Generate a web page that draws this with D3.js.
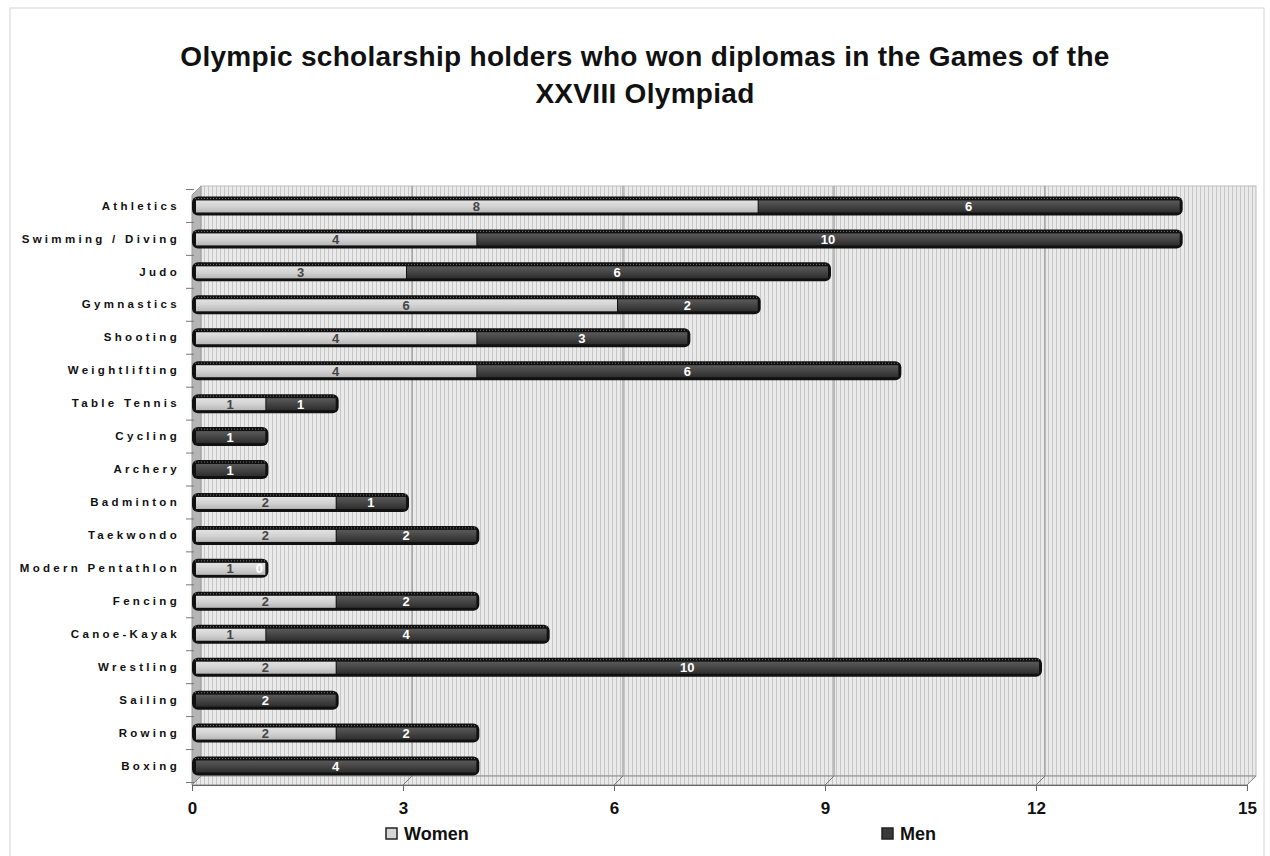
<!DOCTYPE html>
<html>
<head>
<meta charset="utf-8">
<script src="https://cdn.jsdelivr.net/npm/d3@7"></script>
<style>
  body { margin: 0; background: #fff; }
  svg text { font-family: 'Liberation Sans', Arial, sans-serif; }
</style>
</head>
<body>
<div class="canvas"></div>
<script>
// data
const categories = ['Athletics', 'Swimming / Diving', 'Judo', 'Gymnastics', 'Shooting', 'Weightlifting',
  'Table Tennis', 'Cycling', 'Archery', 'Badminton', 'Taekwondo', 'Modern Pentathlon',
  'Fencing', 'Canoe-Kayak', 'Wrestling', 'Sailing', 'Rowing', 'Boxing'];
const women = [8, 4, 3, 6, 4, 4, 1, 0, 0, 2, 2, 1, 2, 1, 2, 0, 2, 0];
const men = [6, 10, 6, 2, 3, 6, 1, 1, 1, 1, 2, 0, 2, 4, 10, 2, 2, 4];
const xTicks = [0, 3, 6, 9, 12, 15];
const seriesNames = ['Women', 'Men'];

const width = 1270;
const height = 856;
const depth = 9; // 3d offset of the back wall

const svg = d3
  .select('.canvas')
  .append('svg')
  .attr('width', width)
  .attr('height', height);

const defs = svg.append('defs');

// vertical hatching for walls
const hatch = defs.append('pattern')
  .attr('id', 'hatch')
  .attr('patternUnits', 'userSpaceOnUse')
  .attr('width', 4)
  .attr('height', 4);
hatch.append('rect').attr('width', 4).attr('height', 4).attr('fill', '#eaeaea');
hatch.append('rect').attr('x', 0).attr('width', 1).attr('height', 4).attr('fill', '#c6c6c6');

// bar textures
const womenGrad = defs.append('linearGradient').attr('id', 'womenGrad').attr('x1', 0).attr('y1', 0).attr('x2', 0).attr('y2', 1);
womenGrad.append('stop').attr('offset', '0%').attr('stop-color', '#e2e2e2');
womenGrad.append('stop').attr('offset', '50%').attr('stop-color', '#d2d2d2');
womenGrad.append('stop').attr('offset', '100%').attr('stop-color', '#b8b8b8');

const menGrad = defs.append('linearGradient').attr('id', 'menGrad').attr('x1', 0).attr('y1', 0).attr('x2', 0).attr('y2', 1);
menGrad.append('stop').attr('offset', '0%').attr('stop-color', '#5a5a5a');
menGrad.append('stop').attr('offset', '50%').attr('stop-color', '#444');
menGrad.append('stop').attr('offset', '100%').attr('stop-color', '#2e2e2e');

// outer chart border
svg.append('rect')
  .attr('x', 10).attr('y', 8)
  .attr('width', 1254).attr('height', 860)
  .attr('fill', 'none')
  .attr('stroke', '#d4d4d4');

// title
const titleLines = ['Olympic scholarship holders who won diplomas in the Games of the', 'XXVIII Olympiad'];
svg.append('g')
  .selectAll('text')
  .data(titleLines)
  .enter()
  .append('text')
  .attr('x', 645)
  .attr('y', (d, i) => 66 + i * 37)
  .attr('text-anchor', 'middle')
  .attr('font-size', 28)
  .attr('font-weight', 'bold')
  .attr('letter-spacing', '0.3px')
  .attr('fill', '#111')
  .text(d => d);

// scales
const x = d3.scaleLinear().domain([0, 15]).range([192, 1247]);
const y = d3.scaleBand().domain(categories).range([189.5, 782.5]).padding(0);

const floorY = 785;
const wallTop = 186;

// back wall
svg.append('rect')
  .attr('x', x(0) + depth).attr('y', wallTop)
  .attr('width', x(15) - x(0)).attr('height', floorY - depth - wallTop)
  .attr('fill', 'url(#hatch)')
  .attr('stroke', '#bbb');

// left side wall
svg.append('polygon')
  .attr('points', [[x(0), wallTop + depth], [x(0) + depth, wallTop], [x(0) + depth, floorY - depth], [x(0), floorY]].join(' '))
  .attr('fill', '#b5b5b5')
  .attr('stroke', '#999');

// floor
svg.append('polygon')
  .attr('points', [[x(0), floorY], [x(15), floorY], [x(15) + depth, floorY - depth], [x(0) + depth, floorY - depth]].join(' '))
  .attr('fill', 'url(#hatch)')
  .attr('stroke', '#888');

// gridlines on wall and floor
const grid = svg.append('g').attr('class', 'grid');
grid.selectAll('line.v')
  .data(xTicks.slice(1, -1))
  .enter()
  .append('line')
  .attr('class', 'v')
  .attr('x1', d => x(d) + depth).attr('x2', d => x(d) + depth)
  .attr('y1', wallTop).attr('y2', floorY - depth)
  .attr('stroke', '#8a8a8a')
  .attr('stroke-width', 1);
grid.selectAll('line.f')
  .data(xTicks.slice(1, -1))
  .enter()
  .append('line')
  .attr('class', 'f')
  .attr('x1', d => x(d) + depth).attr('x2', d => x(d))
  .attr('y1', floorY - depth).attr('y2', floorY)
  .attr('stroke', '#777');

// x axis
const xAxisGroup = svg.append('g')
  .attr('class', 'x-axis')
  .attr('transform', `translate(0, ${floorY})`);
const xAxis = d3.axisBottom(x).tickValues(xTicks).tickSize(6).tickPadding(11).tickSizeOuter(0);
xAxisGroup.call(xAxis);
xAxisGroup.select('.domain').attr('stroke', '#666');
xAxisGroup.selectAll('.tick line').attr('stroke', '#666');
xAxisGroup.selectAll('text')
  .attr('font-size', 17)
  .attr('font-weight', 'bold')
  .attr('fill', '#111');

// y axis labels
const yAxisGroup = svg.append('g')
  .attr('class', 'y-axis')
  .attr('transform', `translate(${x(0) - 12}, 0)`);
const yAxis = d3.axisLeft(y).tickSize(0).tickPadding(0);
yAxisGroup.call(yAxis);
yAxisGroup.select('.domain').remove();
yAxisGroup.selectAll('text')
  .attr('font-size', 11.5)
  .attr('font-weight', 'bold')
  .attr('letter-spacing', '3.3px')
  .attr('fill', '#111');

// category boundary ticks
svg.append('g')
  .selectAll('line')
  .data(categories.concat(['end']))
  .enter()
  .append('line')
  .attr('x1', x(0) - 6).attr('x2', x(0) + 2)
  .attr('y1', (d, i) => y.range()[0] + i * y.step())
  .attr('y2', (d, i) => y.range()[0] + i * y.step())
  .attr('stroke', '#777');

// bars
const barH = 19;
const barShift = 3;
const bars = svg.append('g').attr('class', 'bars')
  .selectAll('g')
  .data(categories.map((c, i) => ({ cat: c, women: women[i], men: men[i] })))
  .enter()
  .append('g')
  .attr('transform', d => `translate(${barShift}, ${y(d.cat) + y.bandwidth() / 2 - barH / 2})`);

// dark outline body
bars.append('rect')
  .attr('x', x(0) - 3)
  .attr('y', 0)
  .attr('width', d => x(d.women + d.men) - x(0) + 6)
  .attr('height', barH)
  .attr('rx', 6)
  .attr('fill', '#111');

// women segment
bars.filter(d => d.women > 0)
  .append('rect')
  .attr('x', x(0) + 1)
  .attr('y', 4)
  .attr('width', d => x(d.women) - x(0) - 1)
  .attr('height', barH - 7)
  .attr('fill', 'url(#womenGrad)');

// men segment
bars.filter(d => d.men > 0)
  .append('rect')
  .attr('x', d => x(d.women) + 1)
  .attr('y', 4)
  .attr('width', d => x(d.women + d.men) - x(d.women) - 1)
  .attr('height', barH - 7)
  .attr('fill', 'url(#menGrad)');

// top rim of cylinder, dotted
bars.append('line')
  .attr('x1', x(0))
  .attr('x2', d => x(d.women + d.men))
  .attr('y1', 2).attr('y2', 2)
  .attr('stroke', '#777')
  .attr('stroke-width', 1)
  .attr('stroke-dasharray', '1 2');

// value labels
bars.filter(d => d.women > 0)
  .append('text')
  .attr('x', d => x(d.women / 2))
  .attr('y', barH / 2 + 5)
  .attr('text-anchor', 'middle')
  .attr('font-size', 13)
  .attr('font-weight', 'bold')
  .attr('fill', '#444')
  .text(d => d.women);

bars.append('text')
  .attr('x', d => d.men > 0 ? x(d.women + d.men / 2) : x(d.women) - 6)
  .attr('y', barH / 2 + 5)
  .attr('text-anchor', 'middle')
  .attr('font-size', 13)
  .attr('font-weight', 'bold')
  .attr('fill', '#fff')
  .text(d => d.men);

// legend
const legend = svg.append('g').attr('class', 'legend')
  .selectAll('g')
  .data(seriesNames)
  .enter()
  .append('g')
  .attr('transform', (d, i) => `translate(${i === 0 ? 386 : 882}, 828)`);
legend.append('rect')
  .attr('width', 11).attr('height', 11)
  .attr('fill', (d, i) => i === 0 ? '#d6d6d6' : '#3a3a3a')
  .attr('stroke', '#222')
  .attr('stroke-width', 1.5);
legend.append('text')
  .attr('x', 18).attr('y', 12)
  .attr('font-size', 18)
  .attr('font-weight', 'bold')
  .attr('fill', '#111')
  .text(d => d);
</script>
</body>
</html>
